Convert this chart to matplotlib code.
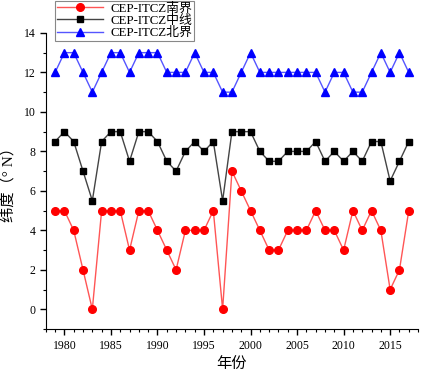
import matplotlib
matplotlib.use('Agg')
import matplotlib.pyplot as plt
from matplotlib.ticker import MultipleLocator

plt.rcParams['font.family'] = ['Liberation Serif', 'Noto Sans CJK SC']

years = list(range(1979, 2018))
south = [5, 5, 4, 2, 0, 5, 5, 5, 3, 5, 5, 4, 3, 2, 4, 4, 4, 5, 0, 7,
         6, 5, 4, 3, 3, 4, 4, 4, 5, 4, 4, 3, 5, 4, 5, 4, 1, 2, 5]
middle = [8.5, 9, 8.5, 7, 5.5, 8.5, 9, 9, 7.5, 9, 9, 8.5, 7.5, 7, 8, 8.5, 8, 8.5, 5.5, 9,
          9, 9, 8, 7.5, 7.5, 8, 8, 8, 8.5, 7.5, 8, 7.5, 8, 7.5, 8.5, 8.5, 6.5, 7.5, 8.5]
north = [12, 13, 13, 12, 11, 12, 13, 13, 12, 13, 13, 13, 12, 12, 12, 13, 12, 12, 11, 11,
         12, 13, 12, 12, 12, 12, 12, 12, 12, 11, 12, 12, 11, 11, 12, 13, 12, 13, 12]
labels = ['CEP-ITCZ南界', 'CEP-ITCZ中线', 'CEP-ITCZ北界']

fig = plt.figure(figsize=(4.24, 3.74), dpi=100)
fig.set_facecolor('white')
ax = fig.add_axes([0.108, 0.12, 0.878, 0.792])

ax.plot(years, south, color='#ff5555', lw=1, marker='o', ms=5.5,
        mfc='red', mec='red', label=labels[0])
ax.plot(years, middle, color='#444444', lw=1, marker='s', ms=5,
        mfc='black', mec='black', label=labels[1])
ax.plot(years, north, color='#5555ff', lw=1, marker='^', ms=6,
        mfc='blue', mec='blue', label=labels[2])

ax.set_xlim(1978, 2018)
ax.set_ylim(-1, 14)
ax.xaxis.set_major_locator(MultipleLocator(5))
ax.xaxis.set_minor_locator(MultipleLocator(1))
ax.yaxis.set_major_locator(MultipleLocator(2))
ax.yaxis.set_minor_locator(MultipleLocator(1))
ax.spines['top'].set_visible(False)
ax.spines['right'].set_visible(False)
ax.tick_params(which='major', direction='out', length=4, width=1, labelsize=8.5)
ax.tick_params(which='minor', direction='out', length=2.5, width=0.8)

ax.set_xlabel('年份', fontsize=11, labelpad=4)
ax.set_ylabel('纬度（° N）', fontsize=11, labelpad=6)

leg = ax.legend(loc='upper left', bbox_to_anchor=(55 / 424, 1 - 1 / 374),
                bbox_transform=fig.transFigure, fontsize=9.3,
                frameon=True, fancybox=False, edgecolor='#888888',
                framealpha=1, handlelength=3.6, borderpad=0.12,
                labelspacing=0.02, handletextpad=0.6, borderaxespad=0)
leg.get_frame().set_linewidth(0.8)

fig.savefig('out.png', dpi=100, facecolor='white')
